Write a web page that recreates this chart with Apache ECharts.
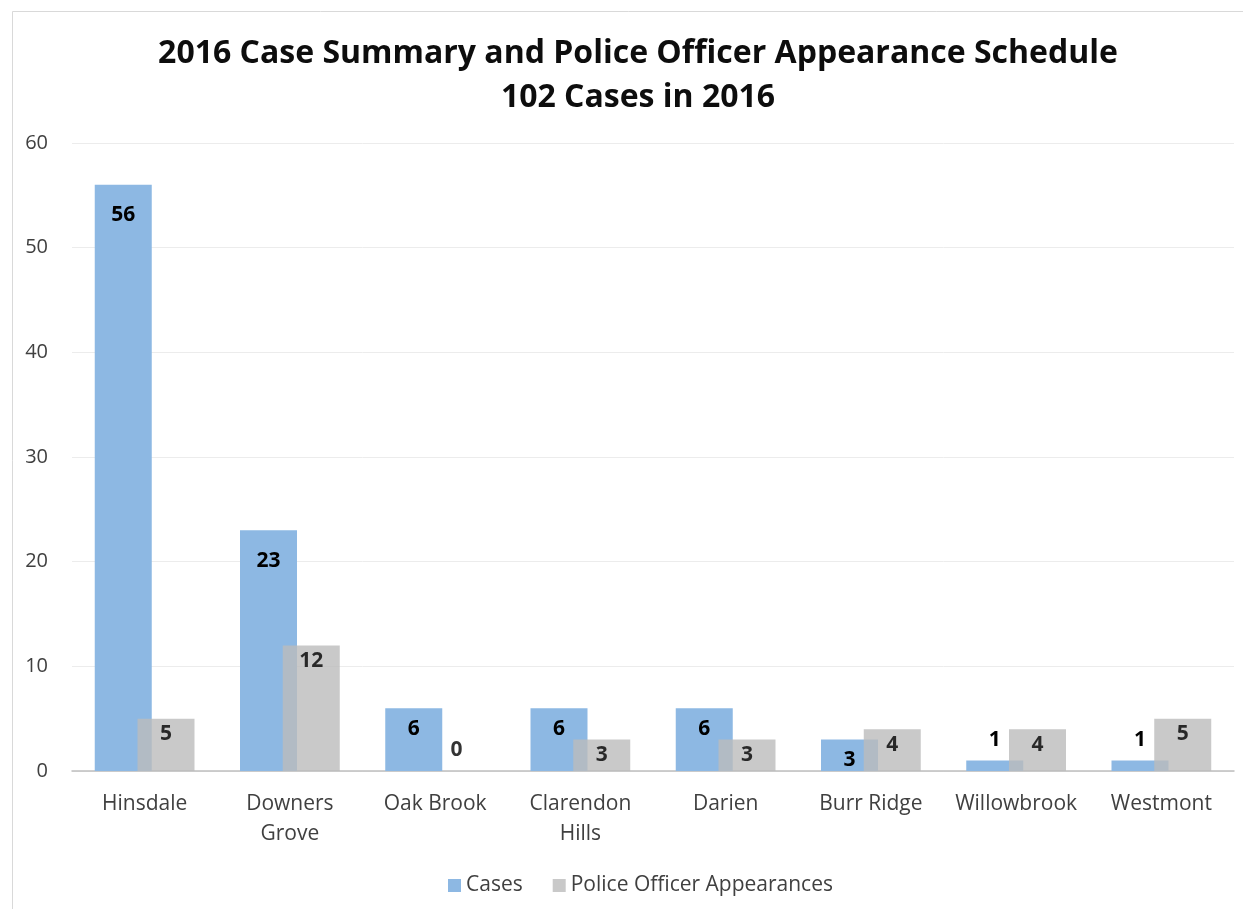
<!DOCTYPE html>
<html>
<head>
<meta charset="utf-8">
<script src="https://cdn.jsdelivr.net/npm/echarts@6/dist/echarts.min.js"></script>
<style>
  html, body { margin: 0; padding: 0; background: #fff; }
  #chart { width: 1243px; height: 909px; }
</style>
</head>
<body>
<div id="chart"></div>
<script>
// towns along the x axis
var towns = ['Hinsdale', 'Downers\nGrove', 'Oak Brook', 'Clarendon\nHills', 'Darien', 'Burr Ridge', 'Willowbrook', 'Westmont'];
// cases per town
var cases = [56, 23, 6, 6, 6, 3, 1, 1];
// police officer appearances per town
var appearances = [5, 12, 0, 3, 3, 4, 4, 5];
var yTicks = [0, 10, 20, 30, 40, 50, 60];

var font = '"Open Sans", "Liberation Sans", sans-serif';

// small values get their label above the bar, the rest sit inside the top
function withLabels(values, dist) {
    return values.map(function(v) {
        if (v <= 1) {
            return { value: v, label: { position: 'top', distance: 10 } };
        }
        return { value: v, label: { position: 'insideTop', distance: v > 20 ? dist + 10 : dist } };
    });
}

var chart = echarts.init(document.getElementById('chart'));
var option = {
    backgroundColor: '#fff',
    animation: false,
    graphic: [{
        type: 'rect',
        shape: { x: 12.5, y: 11.5, width: 1240, height: 910 },
        style: { fill: 'none', stroke: '#d9d9d9', lineWidth: 1 },
        silent: true
    }],
    title: {
        text: '2016 Case Summary and Police Officer Appearance Schedule\n102 Cases in 2016',
        left: 633,
        top: 27,
        textAlign: 'center',
        textStyle: {
            fontFamily: font,
            fontSize: 32,
            fontWeight: 'bold',
            color: '#0d0d0d',
            lineHeight: 44
        }
    },
    legend: {
        left: 443,
        top: 870,
        itemWidth: 13,
        itemHeight: 13,
        itemGap: 30,
        icon: 'rect',
        textStyle: { fontFamily: font, fontSize: 21, color: '#404040' },
        data: ['Cases', 'Police Officer Appearances']
    },
    grid: {
        left: 72,
        right: 9,
        top: 143,
        bottom: 138,
        containLabel: false
    },
    xAxis: {
        type: 'category',
        data: towns,
        axisLine: { lineStyle: { color: '#bfbfbf', width: 1.5 } },
        axisTick: { show: false },
        axisLabel: {
            fontFamily: font,
            fontSize: 21,
            color: '#404040',
            margin: 18,
            lineHeight: 30,
            interval: 0
        }
    },
    yAxis: {
        type: 'value',
        min: yTicks[0],
        max: yTicks[yTicks.length - 1],
        interval: 10,
        axisLine: { show: false },
        axisTick: { show: false },
        splitLine: { lineStyle: { color: '#ececec', width: 1 } },
        axisLabel: {
            fontFamily: font,
            fontSize: 20,
            color: '#404040',
            margin: 24
        }
    },
    series: [{
        name: 'Cases',
        type: 'bar',
        data: withLabels(cases, 10),
        barWidth: 57,
        barGap: '-25%',
        itemStyle: { color: '#8db8e3' },
        label: {
            show: true,
            fontFamily: font,
            fontSize: 21,
            fontWeight: 'bold',
            color: '#000'
        }
    }, {
        name: 'Police Officer Appearances',
        type: 'bar',
        data: withLabels(appearances, 5),
        barWidth: 57,
        itemStyle: { color: '#bbbbbb', opacity: 0.8 },
        label: {
            show: true,
            fontFamily: font,
            fontSize: 21,
            fontWeight: 'bold',
            color: '#000'
        }
    }]
};
chart.setOption(option);
</script>
</body>
</html>
